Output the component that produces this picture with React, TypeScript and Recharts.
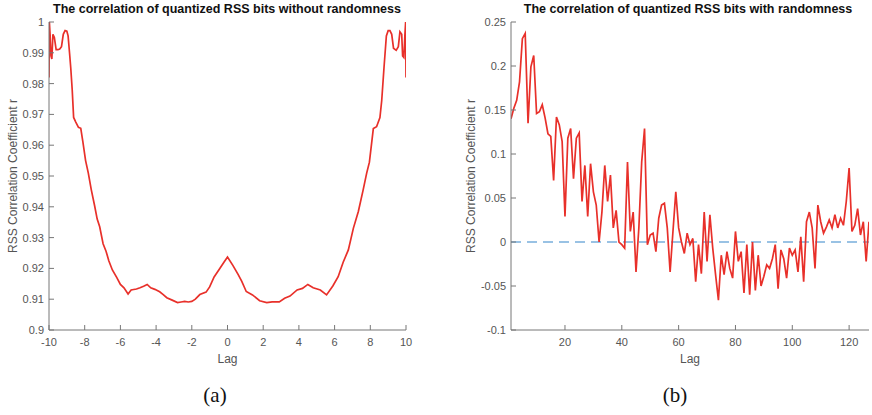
import React from "react"
import { Line, LineChart, ReferenceLine, XAxis, YAxis } from "recharts"

// (a) without randomness
const lagA = [
  -10, -9.98, -9.94, -9.89, -9.84, -9.78, -9.7, -9.6, -9.5, -9.4, -9.3, -9.2, -9.1, -9.0, -8.93,
  -8.85, -8.78, -8.7, -8.62, -8.5, -8.35, -8.22, -8.1, -7.95, -7.8, -7.63, -7.45, -7.3, -7.16,
  -6.97, -6.8, -6.65, -6.45, -6.2, -6.0, -5.8, -5.57, -5.4, -5.1, -4.9, -4.7, -4.5, -4.3, -4.07,
  -3.8, -3.6, -3.4, -3.1, -2.8, -2.6, -2.4, -2.2, -2.0, -1.8, -1.55, -1.2, -1.0, -0.75, -0.45,
  -0.2, 0, 0.3, 0.6, 0.8, 1.05, 1.4, 1.8, 2.2, 2.5, 2.9, 3.2, 3.5, 3.9, 4.2, 4.5, 4.8, 5.2, 5.55,
  5.9, 6.2, 6.48, 6.77, 7.05, 7.33, 7.6, 7.8, 7.95, 8.17, 8.35, 8.54, 8.64, 8.77, 8.9, 9.0, 9.1,
  9.2, 9.3, 9.45, 9.57, 9.66, 9.76, 9.81, 9.88, 9.94, 9.98, 10,
]
const corrA = [
  0.982, 1.0, 0.996, 0.989, 0.988, 0.996, 0.995, 0.991, 0.991, 0.9912, 0.992, 0.996, 0.9972, 0.997,
  0.9955, 0.99, 0.985, 0.978, 0.969, 0.9675, 0.9658, 0.9655, 0.961, 0.955, 0.951, 0.9455, 0.9405,
  0.936, 0.9335, 0.928, 0.9255, 0.9225, 0.9195, 0.917, 0.9148, 0.9137, 0.9117, 0.913, 0.9133,
  0.9137, 0.9142, 0.9148, 0.9137, 0.9132, 0.9124, 0.9115, 0.9105, 0.9097, 0.9089, 0.9091, 0.9093,
  0.9091, 0.9093, 0.91, 0.9115, 0.9123, 0.914, 0.9172, 0.9198, 0.922, 0.9237, 0.921, 0.918,
  0.9158, 0.9125, 0.9114, 0.9095, 0.9089, 0.9091, 0.9091, 0.9103, 0.911, 0.913, 0.9135, 0.9148,
  0.9137, 0.913, 0.9114, 0.9143, 0.9173, 0.922, 0.926, 0.933, 0.9385, 0.9455, 0.951, 0.9545,
  0.9654, 0.966, 0.969, 0.9745, 0.9854, 0.9955, 0.9972, 0.9972, 0.996, 0.9915, 0.9908, 0.992,
  0.9968, 0.996, 0.989, 0.9885, 0.996, 1.0, 0.982,
]
const ticksXA = [-10, -8, -6, -4, -2, 0, 2, 4, 6, 8, 10]
const ticksYA = [0.9, 0.91, 0.92, 0.93, 0.94, 0.95, 0.96, 0.97, 0.98, 0.99, 1]

// (b) with randomness, lag 1..127
const corrB = [
  0.14, 0.152, 0.161, 0.182, 0.231, 0.237, 0.135, 0.199, 0.212, 0.146, 0.148, 0.156, 0.141, 0.123,
  0.12, 0.07, 0.142, 0.133, 0.114, 0.029, 0.118, 0.129, 0.072, 0.118, 0.124, 0.046, 0.087, 0.029,
  0.089, 0.057, 0.042, 0.0, 0.034, 0.087, 0.046, 0.076, 0.016, 0.036, 0.0, -0.003, -0.007, 0.091,
  0.012, 0.034, -0.034, 0.016, 0.091, 0.129, -0.003, 0.008, 0.01, -0.011, 0.027, 0.042, 0.044,
  0.016, -0.034, 0.012, 0.057, 0.016, 0.0, -0.013, 0.01, -0.003, 0.004, -0.045, -0.003, -0.036,
  0.034, -0.022, 0.031, -0.007, -0.037, -0.066, -0.015, -0.037, -0.011, -0.03, -0.041, 0.012,
  -0.022, -0.011, -0.058, -0.003, -0.06, 0.0, -0.055, -0.015, -0.05, -0.039, -0.026, -0.03,
  -0.019, -0.003, -0.053, -0.009, -0.019, -0.041, -0.007, -0.015, -0.009, -0.034, 0.006, -0.045,
  0.023, 0.034, 0.016, -0.03, 0.042, 0.023, 0.01, 0.017, 0.025, 0.016, 0.031, 0.016, 0.027, 0.019,
  0.046, 0.084, 0.012, 0.019, 0.038, 0.008, 0.023, -0.022, 0.023,
]
const ticksXB = [20, 40, 60, 80, 100, 120]
const ticksYB = [-0.1, -0.05, 0, 0.05, 0.1, 0.15, 0.2, 0.25]

const dataA = lagA.map((lag, i) => ({ lag, r: corrA[i] }))
const dataB = corrB.map((r, i) => ({ lag: i + 1, r }))

const axisColor = "#777"
const textColor = "#555"
const red = "#e8302a"
const fmt = (v: number) => String(Math.round(v * 1000) / 1000)
const tickStyle = { fontSize: 11, fill: textColor, fontFamily: "Liberation Sans, Arial, sans-serif" }
const labelStyle = { fontSize: 12, fill: textColor, fontFamily: "Liberation Sans, Arial, sans-serif" }

const Panel = ({
  data,
  xDomain,
  yDomain,
  xTicks,
  yTicks,
  margin,
  labelDx,
  zeroLine,
}: {
  data: { lag: number; r: number }[]
  xDomain: [number, number]
  yDomain: [number, number]
  xTicks: number[]
  yTicks: number[]
  margin: { top: number; right: number; bottom: number; left: number }
  labelDx: number
  zeroLine?: boolean
}) => (
  <LineChart width={436} height={415} data={data} margin={margin}>
    <XAxis
      xAxisId="b"
      dataKey="lag"
      type="number"
      domain={xDomain}
      ticks={xTicks}
      allowDataOverflow
      height={30}
      stroke={axisColor}
      tickSize={-5}
      tickMargin={13}
      tick={tickStyle}
      label={{ value: "Lag", position: "center", dy: 14, style: labelStyle }}
    />
    <XAxis
      xAxisId="t"
      orientation="top"
      dataKey="lag"
      type="number"
      domain={xDomain}
      ticks={xTicks}
      allowDataOverflow
      height={0}
      stroke={axisColor}
      tickSize={-5}
      tick={false}
    />
    <YAxis
      yAxisId="l"
      type="number"
      domain={yDomain}
      ticks={yTicks}
      allowDataOverflow
      width={40}
      stroke={axisColor}
      tickSize={-5}
      tickMargin={10}
      tick={tickStyle}
      tickFormatter={fmt}
      label={{
        value: "RSS Correlation Coefficient r",
        angle: -90,
        position: "center",
        dx: labelDx,
        style: labelStyle,
      }}
    />
    <YAxis
      yAxisId="r"
      orientation="right"
      type="number"
      domain={yDomain}
      ticks={yTicks}
      allowDataOverflow
      width={0}
      stroke={axisColor}
      tickSize={-5}
      tick={false}
    />
    {zeroLine && (
      <ReferenceLine
        xAxisId="b"
        yAxisId="l"
        y={0}
        stroke="#78aedc"
        strokeWidth={1.6}
        strokeDasharray="10 6"
      />
    )}
    <Line
      xAxisId="b"
      yAxisId="l"
      dataKey="r"
      type="linear"
      stroke={red}
      strokeWidth={1.7}
      dot={false}
      isAnimationActive={false}
    />
  </LineChart>
)

const titleStyle: React.CSSProperties = {
  position: "absolute",
  top: 2,
  fontFamily: "Liberation Sans, Arial, sans-serif",
  fontWeight: "bold",
  fontSize: 12.5,
  color: "#111",
  whiteSpace: "nowrap",
  transform: "translateX(-50%)",
}
const captionStyle: React.CSSProperties = {
  position: "absolute",
  top: 383,
  fontFamily: "Liberation Serif, Times New Roman, serif",
  fontSize: 21,
  color: "#111",
  transform: "translateX(-50%)",
}

export default function App() {
  return (
    <div style={{ position: "absolute", left: 0, top: 0, width: 872, height: 415, background: "#fff" }}>
      <div style={{ position: "absolute", left: 0, top: 0 }}>
        <Panel
          data={dataA}
          xDomain={[-10, 10]}
          yDomain={[0.9, 1]}
          xTicks={ticksXA}
          yTicks={ticksYA}
          margin={{ top: 22, right: 30, bottom: 55, left: 9 }}
          labelDx={-16}
        />
      </div>
      <div style={{ position: "absolute", left: 436, top: 0 }}>
        <Panel
          data={dataB}
          xDomain={[1, 127]}
          yDomain={[-0.1, 0.25]}
          xTicks={ticksXB}
          yTicks={ticksYB}
          margin={{ top: 22, right: 3, bottom: 55, left: 35 }}
          labelDx={-20}
          zeroLine
        />
      </div>
      <div style={{ ...titleStyle, left: 227 }}>The correlation of quantized RSS bits without randomness</div>
      <div style={{ ...titleStyle, left: 688 }}>The correlation of quantized RSS bits with randomness</div>
      <div style={{ ...captionStyle, left: 215 }}>(a)</div>
      <div style={{ ...captionStyle, left: 675 }}>(b)</div>
    </div>
  )
}
